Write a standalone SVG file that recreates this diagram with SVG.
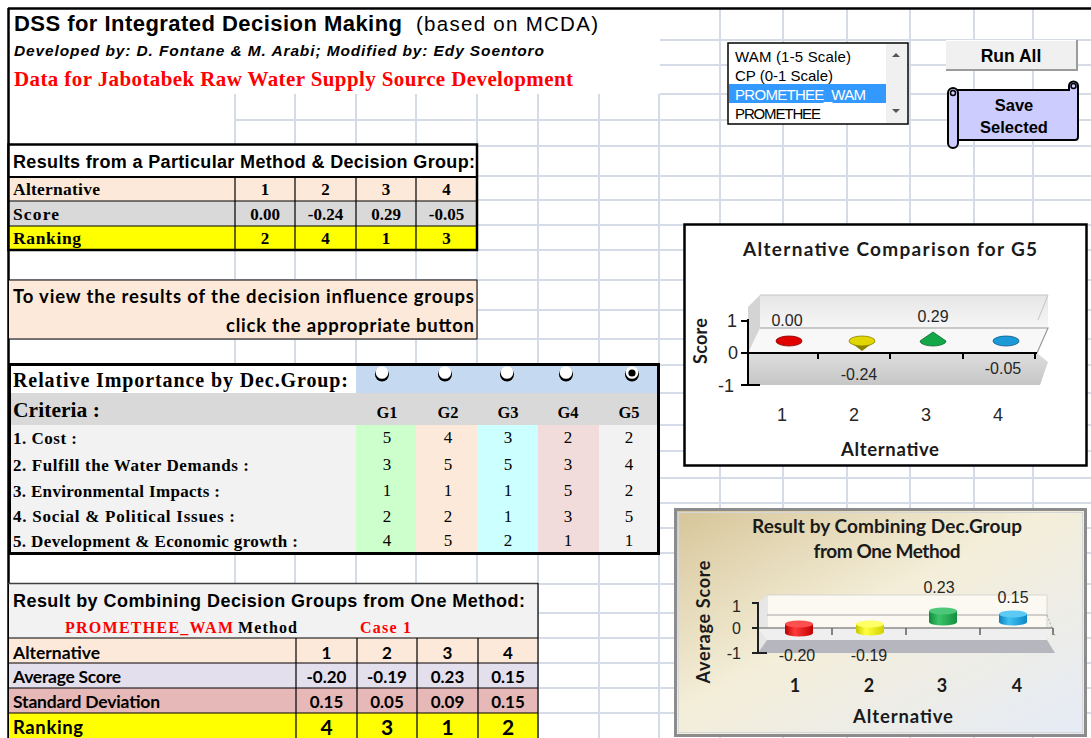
<svg xmlns="http://www.w3.org/2000/svg" width="1091" height="738" viewBox="0 0 1091 738">
<defs>
<style>
.grid line{stroke:#d5dce8;stroke-width:2}
.ar{font-family:"Liberation Sans",Arial,sans-serif}
.arb{font-family:"Liberation Sans",Arial,sans-serif;font-weight:bold}
.tm{font-family:"Liberation Serif","Times New Roman",serif}
.tmb{font-family:"Liberation Serif","Times New Roman",serif;font-weight:bold}
.cb{font-family:Lato,"Liberation Sans",sans-serif;font-weight:bold}
.mid{text-anchor:middle}
.end{text-anchor:end}
.ln{stroke:#000;stroke-width:1.2;fill:none}
.lbl{font-family:"Liberation Sans",Arial,sans-serif;fill:#262626}
</style>
<linearGradient id="ch2bg" x1="0" y1="0" x2="1" y2="1">
<stop offset="0" stop-color="#d6c598"/>
<stop offset="0.45" stop-color="#f4eed9"/>
<stop offset="1" stop-color="#e5ebf7"/>
</linearGradient>
<linearGradient id="wall1" x1="0" y1="0" x2="0" y2="1">
<stop offset="0" stop-color="#e6e6e6"/>
<stop offset="1" stop-color="#f6f6f6"/>
</linearGradient>
<linearGradient id="floor1" x1="0" y1="0" x2="0" y2="1">
<stop offset="0" stop-color="#dedede"/>
<stop offset="1" stop-color="#c6c6c6"/>
</linearGradient>
<linearGradient id="cyR" x1="0" y1="0" x2="1" y2="0">
<stop offset="0" stop-color="#b80000"/><stop offset="0.35" stop-color="#ff3a3a"/><stop offset="1" stop-color="#c00000"/>
</linearGradient>
<linearGradient id="cyY" x1="0" y1="0" x2="1" y2="0">
<stop offset="0" stop-color="#c8c800"/><stop offset="0.35" stop-color="#ffff40"/><stop offset="1" stop-color="#d0d000"/>
</linearGradient>
<linearGradient id="cyG" x1="0" y1="0" x2="1" y2="0">
<stop offset="0" stop-color="#108a3a"/><stop offset="0.35" stop-color="#3cc46a"/><stop offset="1" stop-color="#14903e"/>
</linearGradient>
<linearGradient id="cyB" x1="0" y1="0" x2="1" y2="0">
<stop offset="0" stop-color="#0a80c0"/><stop offset="0.35" stop-color="#40c0f0"/><stop offset="1" stop-color="#0c88c8"/>
</linearGradient>
</defs>

<rect width="1091" height="738" fill="#fff"/>

<!-- worksheet gridlines -->
<g class="grid">
<line x1="235" y1="94" x2="235" y2="738"/>
<line x1="295" y1="94" x2="295" y2="738"/>
<line x1="356" y1="94" x2="356" y2="738"/>
<line x1="416" y1="94" x2="416" y2="738"/>
<line x1="477" y1="94" x2="477" y2="738"/>
<line x1="538" y1="94" x2="538" y2="738"/>
<line x1="599" y1="94" x2="599" y2="738"/>
<line x1="659" y1="94" x2="659" y2="738"/>
<line x1="720" y1="8" x2="720" y2="738"/>
<line x1="783" y1="8" x2="783" y2="738"/>
<line x1="847" y1="8" x2="847" y2="738"/>
<line x1="910" y1="8" x2="910" y2="738"/>
<line x1="974" y1="8" x2="974" y2="738"/>
<line x1="1033" y1="8" x2="1033" y2="738"/>
<line x1="660" y1="40" x2="1091" y2="40"/>
<line x1="660" y1="65" x2="1091" y2="65"/>
<line x1="660" y1="94" x2="1091" y2="94"/>
<line x1="235" y1="120" x2="1091" y2="120"/>
<line x1="8" y1="146" x2="1091" y2="146"/>
<line x1="8" y1="176" x2="1091" y2="176"/>
<line x1="8" y1="200" x2="1091" y2="200"/>
<line x1="8" y1="225" x2="1091" y2="225"/>
<line x1="8" y1="250" x2="1091" y2="250"/>
<line x1="8" y1="280" x2="1091" y2="280"/>
<line x1="8" y1="310" x2="1091" y2="310"/>
<line x1="8" y1="339" x2="1091" y2="339"/>
<line x1="8" y1="365" x2="1091" y2="365"/>
<line x1="8" y1="393" x2="1091" y2="393"/>
<line x1="8" y1="425" x2="1091" y2="425"/>
<line x1="8" y1="451" x2="1091" y2="451"/>
<line x1="8" y1="478" x2="1091" y2="478"/>
<line x1="8" y1="503" x2="1091" y2="503"/>
<line x1="8" y1="528" x2="1091" y2="528"/>
<line x1="8" y1="553" x2="1091" y2="553"/>
<line x1="8" y1="584" x2="1091" y2="584"/>
<line x1="8" y1="613" x2="1091" y2="613"/>
<line x1="8" y1="638" x2="1091" y2="638"/>
<line x1="8" y1="663" x2="1091" y2="663"/>
<line x1="8" y1="688" x2="1091" y2="688"/>
<line x1="8" y1="713" x2="1091" y2="713"/>
</g>

<!-- sheet frame -->
<g id="sheet-frame">
<line x1="8" y1="8.5" x2="1091" y2="8.5" stroke="#000" stroke-width="2.5"/>
<line x1="8.5" y1="8" x2="8.5" y2="738" stroke="#000" stroke-width="2.5"/>
</g>

<!-- heading -->
<g id="heading">
<text class="arb" x="14" y="31" font-size="22" textLength="388">DSS for Integrated Decision Making</text>
<text class="ar" x="416" y="31" font-size="20.5" textLength="182">(based on MCDA)</text>
<text class="arb" x="14" y="56" font-size="15.5" font-style="italic" textLength="530">Developed by: D. Fontane &amp; M. Arabi;  Modified by: Edy Soentoro</text>
<text class="tmb" x="14" y="86" font-size="21" fill="#ff0000" textLength="559">Data for Jabotabek Raw Water Supply Source Development</text>
</g>

<!-- method list box -->
<g id="method-list">
<rect x="728" y="43" width="180" height="81" fill="#fff" stroke="#000" stroke-width="1.5"/>
<rect x="886" y="44" width="21" height="79" fill="#f0f0f0"/>
<polygon points="892,57 896,53 900,57" fill="#555"/>
<polygon points="892,109 900,109 896,113" fill="#555"/>
<rect x="729" y="84" width="157" height="19" fill="#3399ff"/>
<text class="ar" x="735" y="62" font-size="15" textLength="116">WAM (1-5 Scale)</text>
<text class="ar" x="735" y="81" font-size="15" textLength="98">CP (0-1 Scale)</text>
<text class="ar" x="735" y="100" font-size="15" fill="#fff" textLength="131">PROMETHEE_WAM</text>
<text class="ar" x="735" y="119" font-size="15" textLength="86">PROMETHEE</text>
</g>

<!-- Run All button -->
<g id="btn-run-all">
<rect x="946" y="40" width="132" height="31" fill="#9c9c9c"/>
<rect x="946" y="40" width="130" height="29" fill="#f0f0f0"/>
<line x1="946" y1="40.5" x2="1076" y2="40.5" stroke="#fff" stroke-width="1"/>
<text class="arb mid" x="1011" y="62" font-size="17.5">Run All</text>
</g>

<!-- Save Selected scroll button -->
<g id="btn-save-selected">
<path d="M956,90 H1069 V86 A4.5,4.5 0 0 1 1078,86 V137 A3,3 0 0 1 1075,140 H956 Z" fill="#ccccff" stroke="#000" stroke-width="2"/>
<rect x="948" y="88" width="10" height="60" rx="5" fill="#ccccff" stroke="#000" stroke-width="2"/>
<circle cx="953" cy="93" r="2.5" fill="none" stroke="#000" stroke-width="1.5"/>
<circle cx="1073.5" cy="86" r="2.5" fill="none" stroke="#000" stroke-width="1.5"/>
<text class="arb mid" x="1014" y="111" font-size="16.5">Save</text>
<text class="arb mid" x="1014" y="133" font-size="16.5">Selected</text>
</g>

<!-- results for one method and one decision group -->
<g id="table-results">
<rect x="9" y="145" width="468" height="32" fill="#fff"/>
<rect x="9" y="177" width="468" height="24" fill="#fde9d9"/>
<rect x="9" y="201" width="468" height="25" fill="#d9d9d9"/>
<rect x="9" y="226" width="468" height="24" fill="#ffff00"/>
<rect x="8.5" y="144.5" width="468.5" height="105.5" fill="none" stroke="#000" stroke-width="2.5"/>
<line x1="8" y1="177" x2="477" y2="177" stroke="#000" stroke-width="2"/>
<path class="ln" d="M8,201 H477 M8,226 H477 M235,177 V250 M295,177 V250 M356,177 V250 M416,177 V250"/>
<text class="arb" x="13" y="168" font-size="18" textLength="462">Results from a Particular Method &amp; Decision Group:</text>
<text class="tmb" x="13" y="195" font-size="17.5" textLength="87">Alternative</text>
<text class="tmb" x="13" y="220" font-size="17.5" textLength="46">Score</text>
<text class="tmb" x="13" y="244" font-size="17.5" textLength="68">Ranking</text>
<g class="tmb mid" font-size="17">
<text x="265" y="195">1</text><text x="325.5" y="195">2</text><text x="386" y="195">3</text><text x="446.5" y="195">4</text>
<text x="265" y="220">0.00</text><text x="325.5" y="220">-0.24</text><text x="386" y="220">0.29</text><text x="446.5" y="220">-0.05</text>
<text x="265" y="244">2</text><text x="325.5" y="244">4</text><text x="386" y="244">1</text><text x="446.5" y="244">3</text>
</g>
</g>

<!-- note about the decision group buttons -->
<g id="note-groups">
<rect x="8.5" y="280" width="468.5" height="59" fill="#fde9d9" stroke="#000" stroke-width="1"/>
<text class="cb" x="13" y="303" font-size="18.5" textLength="461">To view the results of the decision influence groups</text>
<text class="cb end" x="474" y="332" font-size="18.5" textLength="248">click the appropriate button</text>
</g>

<!-- relative importance of criteria per decision group -->
<g id="table-importance">
<rect x="9" y="365" width="347" height="28" fill="#fff"/>
<rect x="356" y="365" width="303" height="28" fill="#c5d9f1"/>
<rect x="9" y="393" width="650" height="32" fill="#d9d9d9"/>
<rect x="9" y="425" width="347" height="128" fill="#f2f2f2"/>
<rect x="356" y="425" width="60" height="128" fill="#ccffcc"/>
<rect x="416" y="425" width="61" height="128" fill="#fde9d9"/>
<rect x="477" y="425" width="61" height="128" fill="#ccffff"/>
<rect x="538" y="425" width="61" height="128" fill="#f2dcdb"/>
<rect x="599" y="425" width="60" height="128" fill="#f2f2f2"/>
<rect x="9.5" y="364.5" width="649" height="189" fill="none" stroke="#000" stroke-width="3"/>
<text class="tmb" x="13" y="387" font-size="20" textLength="335">Relative Importance by Dec.Group:</text>
<text class="tmb" x="13" y="417" font-size="21.5" textLength="87">Criteria :</text>
<g class="tmb mid" font-size="16.5">
<text x="387" y="418">G1</text><text x="448" y="418">G2</text><text x="508" y="418">G3</text><text x="568" y="418">G4</text><text x="629" y="418">G5</text>
</g>
<g class="tmb" font-size="17">
<text x="13" y="444" textLength="64">1. Cost :</text>
<text x="13" y="471" textLength="236">2. Fulfill the Water Demands :</text>
<text x="13" y="497" textLength="207">3. Environmental Impacts :</text>
<text x="13" y="522" textLength="222">4. Social &amp; Political Issues :</text>
<text x="13" y="547" textLength="285">5. Development &amp; Economic growth :</text>
</g>
<g class="tm mid" font-size="17">
<text x="387" y="443">5</text><text x="448" y="443">4</text><text x="508" y="443">3</text><text x="568" y="443">2</text><text x="629" y="443">2</text>
<text x="387" y="470">3</text><text x="448" y="470">5</text><text x="508" y="470">5</text><text x="568" y="470">3</text><text x="629" y="470">4</text>
<text x="387" y="496">1</text><text x="448" y="496">1</text><text x="508" y="496">1</text><text x="568" y="496">5</text><text x="629" y="496">2</text>
<text x="387" y="522">2</text><text x="448" y="522">2</text><text x="508" y="522">1</text><text x="568" y="522">3</text><text x="629" y="522">5</text>
<text x="387" y="546">4</text><text x="448" y="546">5</text><text x="508" y="546">2</text><text x="568" y="546">1</text><text x="629" y="546">1</text>
</g>
</g>

<!-- decision group option buttons (G5 selected) -->
<g id="group-options">
<circle cx="382" cy="374.5" r="7" fill="#000"/><circle cx="382" cy="372.5" r="6.3" fill="#fff"/>
<circle cx="445" cy="374.5" r="7" fill="#000"/><circle cx="445" cy="372.5" r="6.3" fill="#fff"/>
<circle cx="507" cy="374.5" r="7" fill="#000"/><circle cx="507" cy="372.5" r="6.3" fill="#fff"/>
<circle cx="566" cy="374.5" r="7" fill="#000"/><circle cx="566" cy="372.5" r="6.3" fill="#fff"/>
<circle cx="632" cy="374.5" r="7" fill="#000"/><circle cx="632" cy="372.5" r="6.3" fill="#fff"/>
<circle cx="632" cy="373" r="3.6" fill="#000"/>
</g>

<!-- combined result across decision groups -->
<g id="table-combined">
<rect x="9" y="584" width="529" height="54" fill="#f2f2f2"/>
<rect x="9" y="638" width="529" height="25" fill="#fde9d9"/>
<rect x="9" y="663" width="529" height="25" fill="#e4dfec"/>
<rect x="9" y="688" width="529" height="25" fill="#e6b9b8"/>
<rect x="9" y="713" width="529" height="25" fill="#ffff00"/>
<line x1="8" y1="583.5" x2="538" y2="583.5" stroke="#404040" stroke-width="1.5"/>
<path class="ln" d="M538,583 V738 M8,638 H538 M8,663 H538 M8,688 H538 M8,713 H538 M296,638 V738 M357,638 V738 M417,638 V738 M478,638 V738"/>
<text class="arb" x="13" y="607" font-size="18" textLength="512">Result by Combining Decision Groups from One Method:</text>
<text class="tmb" x="65" y="633" font-size="16" fill="#ff0000" textLength="168">PROMETHEE_WAM</text>
<text class="tmb" x="238" y="633" font-size="16" textLength="59">Method</text>
<text class="tmb" x="360" y="633" font-size="16" fill="#ff0000" textLength="51">Case 1</text>
<text class="cb" x="13" y="659" font-size="17.5" textLength="87">Alternative</text>
<text class="cb" x="13" y="683" font-size="17.5" textLength="108">Average Score</text>
<text class="cb" x="13" y="708" font-size="17.5" textLength="147">Standard Deviation</text>
<text class="cb" x="13" y="734" font-size="18.5" textLength="70">Ranking</text>
<g class="cb mid" font-size="17">
<text x="326.5" y="659">1</text><text x="387" y="659">2</text><text x="447.5" y="659">3</text><text x="508" y="659">4</text>
<text x="326.5" y="683">-0.20</text><text x="387" y="683">-0.19</text><text x="447.5" y="683">0.23</text><text x="508" y="683">0.15</text>
<text x="326.5" y="708">0.15</text><text x="387" y="708">0.05</text><text x="447.5" y="708">0.09</text><text x="508" y="708">0.15</text>
</g>
<g class="cb mid" font-size="21">
<text x="326.5" y="735">4</text><text x="387" y="735">3</text><text x="447.5" y="735">1</text><text x="508" y="735">2</text>
</g>
</g>

<!-- chart: alternative comparison for the selected group -->
<g id="chart-group">
<rect x="684.5" y="224.5" width="402" height="241" fill="#fff" stroke="#000" stroke-width="2.5"/>
<text class="cb mid" x="890" y="256" font-size="19" fill="#1a1a1a" textLength="294">Alternative Comparison for G5</text>
<polygon points="760,295 1048,295 1048,328 760,328" fill="url(#wall1)"/>
<polygon points="748,307 760,295 760,360 748,385" fill="#d4d4d4"/>
<polygon points="748,353 760,328 1048,328 1037,353" fill="#f8f8f8"/>
<polygon points="748,353 1037,353 1048,362 1040,385 748,385" fill="url(#floor1)"/>
<polyline points="760,328 1048,328 1037,353" fill="none" stroke="#9a9a9a" stroke-width="1.2"/>
<polyline points="760,295 1048,295 1038,320" fill="none" stroke="#c4c4c4" stroke-width="1"/>
<path d="M748,319 V386 M741,321 H748 M741,353 H1037 M741,385 H760 M818,353 v6 M890,353 v6 M963,353 v6 M1035,353 v6" fill="none" stroke="#000" stroke-width="2"/>
<ellipse cx="789" cy="341" rx="13" ry="5" fill="#e00000" stroke="#8a0000" stroke-width="0.8"/>
<polygon points="850,342 862,351 874,342" fill="#8c8400"/>
<ellipse cx="862" cy="341" rx="13" ry="5" fill="#e2d600" stroke="#8c8400" stroke-width="0.8"/>
<path d="M920,341 L933,332 L946,341 A13,5 0 0 1 920,341 Z" fill="#12a84a" stroke="#0a6a2e" stroke-width="0.8"/>
<ellipse cx="1006" cy="341" rx="13" ry="5" fill="#1a9ad6" stroke="#0a5a8a" stroke-width="0.8"/>
<g class="lbl mid" font-size="16">
<text x="787" y="326">0.00</text>
<text x="933" y="322">0.29</text>
<text x="859" y="380">-0.24</text>
<text x="1003" y="374">-0.05</text>
</g>
<g class="lbl end" font-size="18" fill="#1a1a1a">
<text x="737" y="327">1</text>
<text x="738" y="359">0</text>
<text x="734" y="392">-1</text>
</g>
<g class="lbl mid" font-size="18" fill="#1a1a1a">
<text x="782" y="421">1</text><text x="854" y="421">2</text><text x="926" y="421">3</text><text x="998" y="421">4</text>
</g>
<text class="cb mid" x="890" y="456" font-size="18.5" fill="#1a1a1a" textLength="98">Alternative</text>
<text class="cb mid" transform="translate(707,341) rotate(-90)" font-size="18" fill="#1a1a1a" textLength="46">Score</text>
</g>

<!-- chart: combined result from one method -->
<g id="chart-combined">
<rect x="675.5" y="509.5" width="410" height="226" fill="url(#ch2bg)" stroke="#8c8c8c" stroke-width="3"/>
<rect x="678.5" y="512.5" width="404" height="220" fill="none" stroke="#d6d6d6" stroke-width="1"/>
<text class="cb mid" x="887" y="533" font-size="19" fill="#1a1a1a" textLength="270">Result by Combining Dec.Group</text>
<text class="cb mid" x="887" y="558" font-size="19" fill="#1a1a1a" textLength="147">from One Method</text>
<polygon points="767,595 1047,595 1047,640 767,640" fill="#fbf9f1" stroke="#cfcfcf" stroke-width="0.8"/>
<polygon points="758,603 767,595 767,640 758,653" fill="#e6e6e6"/>
<polygon points="758,628 1053,628 1047,640 767,640" fill="#efefef"/>
<polygon points="767,640 1047,640 1055,653 758,653" fill="#b6b6be"/>
<line x1="767" y1="615" x2="1047" y2="615" stroke="#a6a6a6" stroke-width="1.2"/>
<line x1="1047" y1="615" x2="1055" y2="636" stroke="#a6a6a6" stroke-width="1" stroke-dasharray="2,2"/>
<line x1="758" y1="628" x2="1053" y2="628" stroke="#8c8c8c" stroke-width="1.5"/>
<path d="M832,628 v7 M906,628 v7 M980,628 v7 M1053,628 v7" stroke="#606060" stroke-width="1.5"/>
<path d="M758,602 V654 M752,603 H758 M752,628 H758 M752,653 H767" fill="none" stroke="#202020" stroke-width="2"/>
<path d="M785,624 V633 A14,3.5 0 0 0 813,633 V624 Z" fill="url(#cyR)"/>
<ellipse cx="799" cy="624" rx="14" ry="3.5" fill="#ff5050"/>
<path d="M856,624 V632 A14,3.5 0 0 0 884,632 V624 Z" fill="url(#cyY)"/>
<ellipse cx="870" cy="624" rx="14" ry="3.5" fill="#ffff66"/>
<path d="M929,611 V622 A14,3.5 0 0 0 957,622 V611 Z" fill="url(#cyG)"/>
<ellipse cx="943" cy="611" rx="14" ry="3.5" fill="#4cc878"/>
<path d="M999,614 V622 A14,3.5 0 0 0 1027,622 V614 Z" fill="url(#cyB)"/>
<ellipse cx="1013" cy="614" rx="14" ry="3.5" fill="#5ccaf4"/>
<g class="lbl mid" font-size="16">
<text x="797" y="661">-0.20</text>
<text x="869" y="661">-0.19</text>
<text x="939" y="593">0.23</text>
<text x="1013" y="603">0.15</text>
</g>
<g class="lbl end" font-size="16" fill="#1a1a1a">
<text x="741" y="612">1</text>
<text x="741" y="634">0</text>
<text x="741" y="659">-1</text>
</g>
<g class="cb mid" font-size="18" fill="#1a1a1a">
<text x="795" y="692">1</text><text x="869" y="692">2</text><text x="942" y="692">3</text><text x="1017" y="692">4</text>
</g>
<text class="cb mid" x="903" y="723" font-size="18.5" fill="#1a1a1a" textLength="100">Alternative</text>
<text class="cb mid" transform="translate(710,622) rotate(-90)" font-size="18" fill="#1a1a1a" textLength="123">Average  Score</text>
</g>
</svg>
